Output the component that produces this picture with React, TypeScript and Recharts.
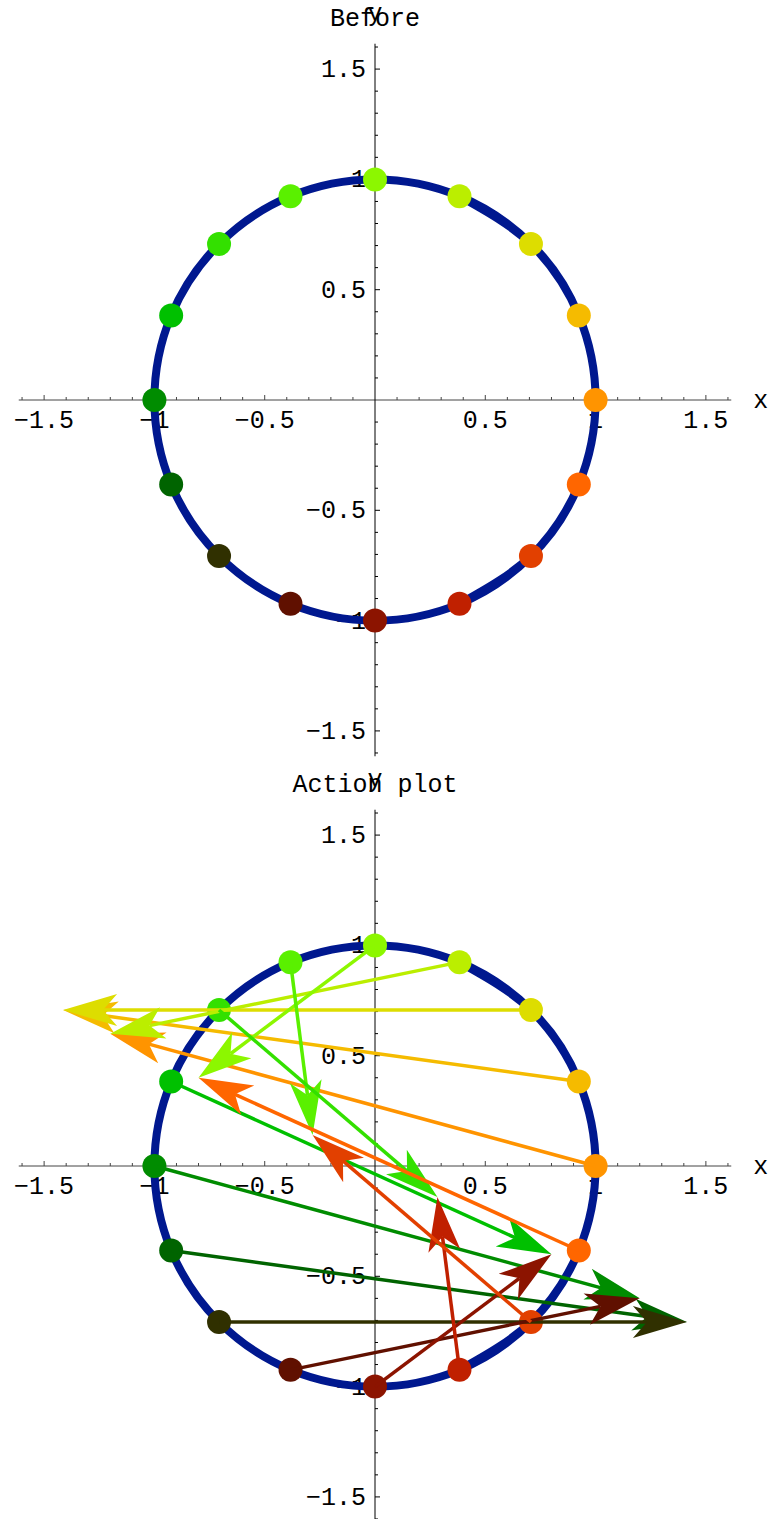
import { ComposedChart, XAxis, YAxis, Line, Scatter, Cell, ReferenceLine, ReferenceDot } from "recharts";

// 16 points on the unit circle, counter-clockwise from (1, 0)
const pointX = [1, 0.924, 0.707, 0.383, 0, -0.383, -0.707, -0.924, -1, -0.924, -0.707, -0.383, 0, 0.383, 0.707, 0.924];
const pointY = [0, 0.383, 0.707, 0.924, 1, 0.924, 0.707, 0.383, 0, -0.383, -0.707, -0.924, -1, -0.924, -0.707, -0.383];
const pointColors = [
  "#ff9400", "#f5bb00", "#dddd00", "#bbee00", "#8cf700", "#5af000", "#33e000", "#00c000",
  "#008c00", "#006400", "#303000", "#601000", "#8c1400", "#c02000", "#e24000", "#ff6600",
];

// where each point lands in the action plot
const arrowEndX = [-1.2, -1.414, -1.414, -1.2, -0.8, -0.283, 0.283, 0.8, 1.2, 1.414, 1.414, 1.2, 0.8, 0.283, -0.283, -0.8];
const arrowEndY = [0.6, 0.707, 0.707, 0.6, 0.4, 0.141, -0.141, -0.4, -0.6, -0.707, -0.707, -0.6, -0.4, -0.141, 0.141, 0.4];

const tickValues = [
  -1.6, -1.5, -1.4, -1.3, -1.2, -1.1, -1, -0.9, -0.8, -0.7, -0.6, -0.5, -0.4, -0.3, -0.2, -0.1,
  0.1, 0.2, 0.3, 0.4, 0.5, 0.6, 0.7, 0.8, 0.9, 1, 1.1, 1.2, 1.3, 1.4, 1.5, 1.6,
];
const majorTicks = [-1.5, -1, -0.5, 0.5, 1, 1.5];
const axisEnd = 1.615;

const FONT = "'Liberation Mono', 'Courier New', monospace";
const CIRCLE_COLOR = "#00188f";

const points = pointX.map((x, i) => ({ x, y: pointY[i] }));
// wrap a few points past each end so the natural curve closes smoothly
const circleOrder = [13, 14, 15, 0, 1, 2, 3, 4, 5, 6, 7, 8, 9, 10, 11, 12, 13, 14, 15, 0, 1, 2, 3];
const circleData = circleOrder.map((i) => points[i]);

const fmt = (v: number) => (v < 0 ? "\u2212" + String(Math.abs(v)) : String(v));

const xTickShape = (v: number) => (props: any) => {
  const { cx, cy } = props;
  const major = majorTicks.includes(v);
  return (
    <g>
      <line x1={cx} y1={cy} x2={cx} y2={cy - (major ? 5 : 3)} stroke="#444" strokeWidth={1} />
      {major && (
        <text x={cx} y={cy + 28} textAnchor="middle" fontFamily={FONT} fontSize={25} fill="#000">
          {fmt(v)}
        </text>
      )}
    </g>
  );
};

const yTickShape = (v: number) => (props: any) => {
  const { cx, cy } = props;
  const major = majorTicks.includes(v);
  return (
    <g>
      <line x1={cx} y1={cy} x2={cx + (major ? 5 : 3)} y2={cy} stroke="#000" strokeWidth={1} />
      {major && (
        <text x={cx - 9} y={cy + 8} textAnchor="end" fontFamily={FONT} fontSize={25} fill="#000">
          {fmt(v)}
        </text>
      )}
    </g>
  );
};

const textShape = (label: string, dx: number, dy: number, anchor: string) => (props: any) => (
  <text x={props.cx + dx} y={props.cy + dy} textAnchor={anchor} fontFamily={FONT} fontSize={25} fill="#000">
    {label}
  </text>
);

const arrowShape = (color: string) => (props: any) => {
  const { x1, y1, x2, y2 } = props;
  const dx = x2 - x1;
  const dy = y2 - y1;
  const len = Math.hypot(dx, dy) || 1;
  const ux = dx / len;
  const uy = dy / len;
  const px = -uy;
  const py = ux;
  const L = 54; // head length
  const W = 16; // half width
  const N = 40; // notch depth
  const bx = x2 - ux * L;
  const by = y2 - uy * L;
  const nx = x2 - ux * N;
  const ny = y2 - uy * N;
  const poly = [
    `${x2},${y2}`,
    `${bx + px * W},${by + py * W}`,
    `${nx},${ny}`,
    `${bx - px * W},${by - py * W}`,
  ].join(" ");
  return (
    <g>
      <line x1={x1} y1={y1} x2={nx} y2={ny} stroke={color} strokeWidth={3.5} />
      <polygon points={poly} fill={color} />
    </g>
  );
};

function Panel({ title, arrows }: { title: string; arrows: boolean }) {
  return (
    <ComposedChart width={773} height={766} margin={{ top: 36, right: 23, bottom: 2, left: 0 }}>
      <XAxis type="number" dataKey="x" domain={[-1.7, 1.7]} hide />
      <YAxis type="number" dataKey="y" domain={[-1.65, 1.65]} hide />
      <ReferenceLine
        segment={[{ x: -axisEnd, y: 0 }, { x: axisEnd, y: 0 }]}
        stroke="#444"
        strokeWidth={1}
        zIndex={50}
      />
      <ReferenceLine
        segment={[{ x: 0, y: -axisEnd }, { x: 0, y: axisEnd }]}
        stroke="#000"
        strokeWidth={1}
        zIndex={50}
      />
      {tickValues.map((v) => (
        <ReferenceDot key={"xt" + v} x={v} y={0} shape={xTickShape(v)} zIndex={60} />
      ))}
      {tickValues.map((v) => (
        <ReferenceDot key={"yt" + v} x={0} y={v} shape={yTickShape(v)} zIndex={60} />
      ))}
      <ReferenceDot x={axisEnd} y={0} shape={textShape("x", 22, 8, "start")} zIndex={60} />
      <ReferenceDot x={0} y={axisEnd} shape={textShape("y", 0, -23, "middle")} zIndex={60} />
      <ReferenceDot x={0} y={axisEnd} shape={textShape(title, 0, -18, "middle")} zIndex={60} />
      <Line
        data={circleData}
        dataKey="y"
        type="natural"
        stroke={CIRCLE_COLOR}
        strokeWidth={8}
        dot={false}
        activeDot={false}
        isAnimationActive={false}
        zIndex={100}
      />
      <Scatter
        data={points}
        isAnimationActive={false}
        zIndex={200}
        shape={(p: any) => <circle cx={p.cx} cy={p.cy} r={12} fill={p.fill} />}
      >
        {points.map((_, i) => (
          <Cell key={i} fill={pointColors[i]} />
        ))}
      </Scatter>
      {arrows &&
        points.map((p, i) => (
          <ReferenceLine
            key={"ar" + i}
            segment={[{ x: p.x, y: p.y }, { x: arrowEndX[i], y: arrowEndY[i] }]}
            shape={arrowShape(pointColors[i])}
            zIndex={300 + i}
          />
        ))}
    </ComposedChart>
  );
}

export default function App() {
  return (
    <div
      style={{
        position: "absolute",
        left: 0,
        top: 0,
        width: 773,
        height: 1519,
        overflow: "hidden",
        background: "#fff",
      }}
    >
      <Panel title="Before" arrows={false} />
      <Panel title="Action plot" arrows={true} />
    </div>
  );
}
